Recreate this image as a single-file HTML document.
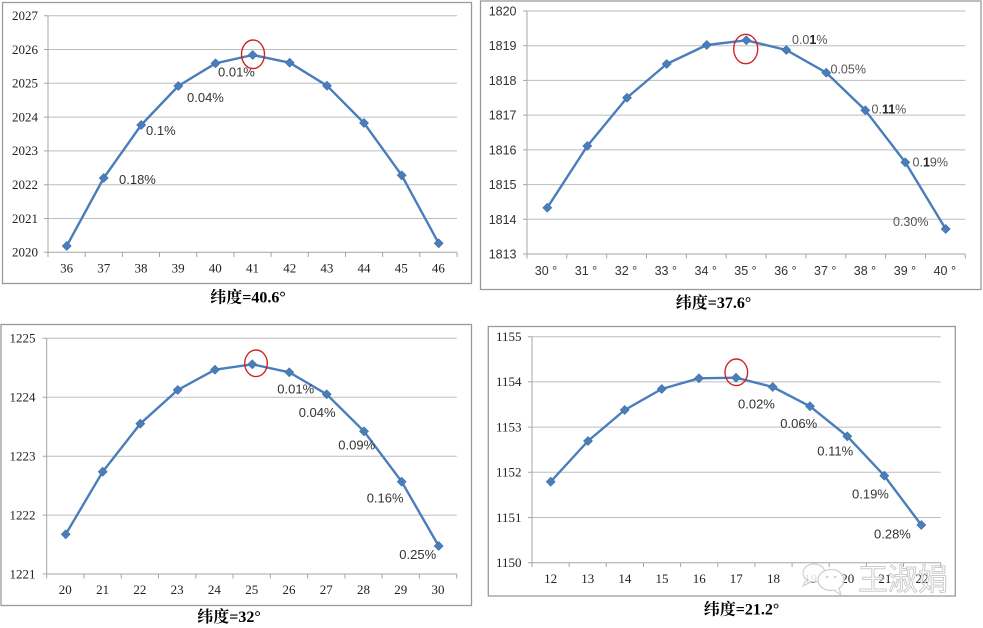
<!DOCTYPE html>
<html><head><meta charset="utf-8"><style>
html,body{margin:0;padding:0;background:#fff;}
svg{display:block;}
.grid{stroke:#bdbdbd;stroke-width:1;}
.ax{stroke:#a6a6a6;stroke-width:1;}
.frame{fill:none;stroke:#9a9a9a;stroke-width:1.3;}
.ser{fill:none;stroke:#4a7ebb;stroke-width:2.4;stroke-linejoin:round;}
.mk{fill:#4a7ebb;stroke:#3d6ea8;stroke-width:0.6;}
.yl{font-family:"Liberation Serif",serif;font-size:13px;fill:#222;text-anchor:end;}
.xl{font-family:"Liberation Serif",serif;font-size:13px;fill:#222;text-anchor:middle;}
.yls{font-family:"Liberation Sans",sans-serif;font-size:12.5px;fill:#333;text-anchor:end;}
.xls{font-family:"Liberation Sans",sans-serif;font-size:12.5px;fill:#333;text-anchor:middle;}
.dl{font-family:"Liberation Sans",sans-serif;font-size:13px;fill:#333;}
.dl2{font-family:"Liberation Sans",sans-serif;font-size:12.5px;fill:#555;}
.tt{font-family:"Liberation Serif","Noto Serif CJK SC",serif;font-size:16px;font-weight:bold;fill:#000;text-anchor:middle;}
.circ{fill:none;stroke:#d0242a;stroke-width:1.4;}
</style></head><body>
<svg width="983" height="628" viewBox="0 0 983 628" xmlns="http://www.w3.org/2000/svg">
<rect width="983" height="628" fill="#fff"/>

<!-- ============ Chart 1 ============ -->
<rect class="frame" x="2.5" y="2.5" width="469" height="281"/>
<g>
<line class="grid" x1="48" y1="15.7" x2="457" y2="15.7"/>
<line class="grid" x1="48" y1="49.5" x2="457" y2="49.5"/>
<line class="grid" x1="48" y1="83.3" x2="457" y2="83.3"/>
<line class="grid" x1="48" y1="117.1" x2="457" y2="117.1"/>
<line class="grid" x1="48" y1="150.9" x2="457" y2="150.9"/>
<line class="grid" x1="48" y1="184.7" x2="457" y2="184.7"/>
<line class="grid" x1="48" y1="218.5" x2="457" y2="218.5"/>
<line class="ax" x1="48" y1="15.7" x2="48" y2="252.3"/>
<line class="ax" x1="48" y1="252.3" x2="457" y2="252.3"/>
<path class="ax" d="M44 15.7H48M44 49.5H48M44 83.3H48M44 117.1H48M44 150.9H48M44 184.7H48M44 218.5H48M44 252.3H48"/>
<path class="ax" d="M48 252.3V257M85.2 252.3V257M122.4 252.3V257M159.5 252.3V257M196.7 252.3V257M233.9 252.3V257M271.1 252.3V257M308.3 252.3V257M345.5 252.3V257M382.6 252.3V257M419.8 252.3V257M457 252.3V257"/>
<text class="yl" x="38" y="20">2027</text>
<text class="yl" x="38" y="53.8">2026</text>
<text class="yl" x="38" y="87.6">2025</text>
<text class="yl" x="38" y="121.4">2024</text>
<text class="yl" x="38" y="155.2">2023</text>
<text class="yl" x="38" y="189">2022</text>
<text class="yl" x="38" y="222.8">2021</text>
<text class="yl" x="38" y="256.6">2020</text>
<text class="xl" x="66.6" y="272.5">36</text>
<text class="xl" x="103.8" y="272.5">37</text>
<text class="xl" x="141" y="272.5">38</text>
<text class="xl" x="178.1" y="272.5">39</text>
<text class="xl" x="215.3" y="272.5">40</text>
<text class="xl" x="252.5" y="272.5">41</text>
<text class="xl" x="289.7" y="272.5">42</text>
<text class="xl" x="326.9" y="272.5">43</text>
<text class="xl" x="364" y="272.5">44</text>
<text class="xl" x="401.2" y="272.5">45</text>
<text class="xl" x="438.4" y="272.5">46</text>
<polyline class="ser" points="66.7,246 103.7,178 141.2,125 178.3,86 215.6,63.3 252.7,55 289.7,62.7 327,85.7 364,123 401.7,175.3 438.7,243.3"/>
<g class="mk">
<path d="M66.7 241.5l4.5 4.5-4.5 4.5-4.5-4.5z"/>
<path d="M103.7 173.5l4.5 4.5-4.5 4.5-4.5-4.5z"/>
<path d="M141.2 120.5l4.5 4.5-4.5 4.5-4.5-4.5z"/>
<path d="M178.3 81.5l4.5 4.5-4.5 4.5-4.5-4.5z"/>
<path d="M215.6 58.8l4.5 4.5-4.5 4.5-4.5-4.5z"/>
<path d="M252.7 50.5l4.5 4.5-4.5 4.5-4.5-4.5z"/>
<path d="M289.7 58.2l4.5 4.5-4.5 4.5-4.5-4.5z"/>
<path d="M327 81.2l4.5 4.5-4.5 4.5-4.5-4.5z"/>
<path d="M364 118.5l4.5 4.5-4.5 4.5-4.5-4.5z"/>
<path d="M401.7 170.8l4.5 4.5-4.5 4.5-4.5-4.5z"/>
<path d="M438.7 238.8l4.5 4.5-4.5 4.5-4.5-4.5z"/>
</g>
<text class="dl" x="218" y="76.5">0.01%</text>
<text class="dl" x="187" y="102">0.04%</text>
<text class="dl" x="146" y="135">0.1%</text>
<text class="dl" x="119" y="184">0.18%</text>
<ellipse class="circ" cx="253" cy="54.3" rx="11.5" ry="14.3"/>
</g>
<text class="tt" x="248" y="302.5">纬度=40.6°</text>

<!-- ============ Chart 2 ============ -->
<rect class="frame" x="480.5" y="1" width="500.5" height="288.5"/>
<g>
<line class="grid" x1="527" y1="11" x2="965.3" y2="11"/>
<line class="grid" x1="527" y1="45.7" x2="965.3" y2="45.7"/>
<line class="grid" x1="527" y1="80.4" x2="965.3" y2="80.4"/>
<line class="grid" x1="527" y1="115.1" x2="965.3" y2="115.1"/>
<line class="grid" x1="527" y1="149.9" x2="965.3" y2="149.9"/>
<line class="grid" x1="527" y1="184.6" x2="965.3" y2="184.6"/>
<line class="grid" x1="527" y1="219.3" x2="965.3" y2="219.3"/>
<line class="ax" x1="527" y1="11" x2="527" y2="254"/>
<line class="ax" x1="527" y1="254" x2="965.3" y2="254"/>
<path class="ax" d="M523 11H527M523 45.7H527M523 80.4H527M523 115.1H527M523 149.9H527M523 184.6H527M523 219.3H527M523 254H527"/>
<path class="ax" d="M527 254V258.5M566.8 254V258.5M606.7 254V258.5M646.5 254V258.5M686.4 254V258.5M726.2 254V258.5M766.1 254V258.5M805.9 254V258.5M845.8 254V258.5M885.6 254V258.5M925.5 254V258.5M965.3 254V258.5"/>
<text class="yls" x="516.5" y="15.5">1820</text>
<text class="yls" x="516.5" y="50.2">1819</text>
<text class="yls" x="516.5" y="84.9">1818</text>
<text class="yls" x="516.5" y="119.6">1817</text>
<text class="yls" x="516.5" y="154.4">1816</text>
<text class="yls" x="516.5" y="189.1">1815</text>
<text class="yls" x="516.5" y="223.8">1814</text>
<text class="yls" x="516.5" y="258.5">1813</text>
<text class="xls" x="546" y="275">30 °</text>
<text class="xls" x="586" y="275">31 °</text>
<text class="xls" x="626" y="275">32 °</text>
<text class="xls" x="665.8" y="275">33 °</text>
<text class="xls" x="705.7" y="275">34 °</text>
<text class="xls" x="745.5" y="275">35 °</text>
<text class="xls" x="785.4" y="275">36 °</text>
<text class="xls" x="825.2" y="275">37 °</text>
<text class="xls" x="865" y="275">38 °</text>
<text class="xls" x="905" y="275">39 °</text>
<text class="xls" x="944.8" y="275">40 °</text>
<polyline class="ser" points="547.3,207.7 587.3,146 627,97.7 666.7,64 706.7,45 746.3,40.3 786.3,50 826.3,72.7 865.3,110.3 905.3,162.3 945.7,229"/>
<g class="mk">
<path d="M547.3 203.2l4.5 4.5-4.5 4.5-4.5-4.5z"/>
<path d="M587.3 141.5l4.5 4.5-4.5 4.5-4.5-4.5z"/>
<path d="M627 93.2l4.5 4.5-4.5 4.5-4.5-4.5z"/>
<path d="M666.7 59.5l4.5 4.5-4.5 4.5-4.5-4.5z"/>
<path d="M706.7 40.5l4.5 4.5-4.5 4.5-4.5-4.5z"/>
<path d="M746.3 35.8l4.5 4.5-4.5 4.5-4.5-4.5z"/>
<path d="M786.3 45.5l4.5 4.5-4.5 4.5-4.5-4.5z"/>
<path d="M826.3 68.2l4.5 4.5-4.5 4.5-4.5-4.5z"/>
<path d="M865.3 105.8l4.5 4.5-4.5 4.5-4.5-4.5z"/>
<path d="M905.3 157.8l4.5 4.5-4.5 4.5-4.5-4.5z"/>
<path d="M945.7 224.5l4.5 4.5-4.5 4.5-4.5-4.5z"/>
</g>
<text class="dl2" x="792" y="44">0.0<tspan font-weight="bold" fill="#222">1</tspan>%</text>
<text class="dl2" x="830.5" y="73.5">0.05%</text>
<text class="dl2" x="871.5" y="113.5">0.<tspan font-weight="bold" fill="#222">11</tspan>%</text>
<text class="dl2" x="912.5" y="166.5">0.<tspan font-weight="bold" fill="#222">1</tspan>9%</text>
<text class="dl2" x="893" y="226">0.30%</text>
<ellipse class="circ" cx="745.7" cy="49" rx="12" ry="14.7"/>
</g>
<text class="tt" x="713.5" y="308">纬度=37.6°</text>

<!-- ============ Chart 3 ============ -->
<rect class="frame" x="1" y="324.5" width="470.5" height="281"/>
<g>
<line class="grid" x1="46.7" y1="338.3" x2="456.7" y2="338.3"/>
<line class="grid" x1="46.7" y1="397.2" x2="456.7" y2="397.2"/>
<line class="grid" x1="46.7" y1="456.2" x2="456.7" y2="456.2"/>
<line class="grid" x1="46.7" y1="515.1" x2="456.7" y2="515.1"/>
<line class="ax" x1="46.7" y1="338.3" x2="46.7" y2="574"/>
<line class="ax" x1="46.7" y1="574" x2="456.7" y2="574"/>
<path class="ax" d="M42.7 338.3H46.7M42.7 397.2H46.7M42.7 456.2H46.7M42.7 515.1H46.7M42.7 574H46.7"/>
<path class="ax" d="M46.7 574V578.5M84 574V578.5M121.2 574V578.5M158.5 574V578.5M195.8 574V578.5M233 574V578.5M270.3 574V578.5M307.6 574V578.5M344.9 574V578.5M382.1 574V578.5M419.4 574V578.5M456.7 574V578.5"/>
<text class="yl" x="35.5" y="342.6">1225</text>
<text class="yl" x="35.5" y="401.5">1224</text>
<text class="yl" x="35.5" y="460.5">1223</text>
<text class="yl" x="35.5" y="519.4">1222</text>
<text class="yl" x="35.5" y="578.3">1221</text>
<text class="xl" x="65.3" y="594">20</text>
<text class="xl" x="102.6" y="594">21</text>
<text class="xl" x="139.9" y="594">22</text>
<text class="xl" x="177.1" y="594">23</text>
<text class="xl" x="214.4" y="594">24</text>
<text class="xl" x="251.7" y="594">25</text>
<text class="xl" x="289" y="594">26</text>
<text class="xl" x="326.2" y="594">27</text>
<text class="xl" x="363.5" y="594">28</text>
<text class="xl" x="400.8" y="594">29</text>
<text class="xl" x="438" y="594">30</text>
<polyline class="ser" points="65.7,534.3 102.7,471.7 140.3,423.7 177.7,390 215,369.7 252.3,364.3 289.3,372.3 326.7,394.3 364,431.3 401.7,481.7 438.7,546"/>
<g class="mk">
<path d="M65.7 529.8l4.5 4.5-4.5 4.5-4.5-4.5z"/>
<path d="M102.7 467.2l4.5 4.5-4.5 4.5-4.5-4.5z"/>
<path d="M140.3 419.2l4.5 4.5-4.5 4.5-4.5-4.5z"/>
<path d="M177.7 385.5l4.5 4.5-4.5 4.5-4.5-4.5z"/>
<path d="M215 365.2l4.5 4.5-4.5 4.5-4.5-4.5z"/>
<path d="M252.3 359.8l4.5 4.5-4.5 4.5-4.5-4.5z"/>
<path d="M289.3 367.8l4.5 4.5-4.5 4.5-4.5-4.5z"/>
<path d="M326.7 389.8l4.5 4.5-4.5 4.5-4.5-4.5z"/>
<path d="M364 426.8l4.5 4.5-4.5 4.5-4.5-4.5z"/>
<path d="M401.7 477.2l4.5 4.5-4.5 4.5-4.5-4.5z"/>
<path d="M438.7 541.5l4.5 4.5-4.5 4.5-4.5-4.5z"/>
</g>
<text class="dl" x="277.3" y="393.7">0.01%</text>
<text class="dl" x="298.7" y="417">0.04%</text>
<text class="dl" x="338.3" y="449.7">0.09%</text>
<text class="dl" x="366.7" y="502.4">0.16%</text>
<text class="dl" x="399.3" y="559">0.25%</text>
<ellipse class="circ" cx="256" cy="363.3" rx="11.3" ry="13.3"/>
</g>
<text class="tt" x="229" y="622">纬度=32°</text>

<!-- ============ Chart 4 ============ -->
<rect class="frame" x="488.3" y="326.5" width="467" height="269.5"/>
<g>
<line class="grid" x1="532" y1="336.7" x2="940.7" y2="336.7"/>
<line class="grid" x1="532" y1="381.9" x2="940.7" y2="381.9"/>
<line class="grid" x1="532" y1="427.1" x2="940.7" y2="427.1"/>
<line class="grid" x1="532" y1="472.3" x2="940.7" y2="472.3"/>
<line class="grid" x1="532" y1="517.5" x2="940.7" y2="517.5"/>
<line class="ax" x1="532" y1="336.7" x2="532" y2="562.7"/>
<line class="ax" x1="532" y1="562.7" x2="940.7" y2="562.7"/>
<path class="ax" d="M528 336.7H532M528 381.9H532M528 427.1H532M528 472.3H532M528 517.5H532M528 562.7H532"/>
<path class="ax" d="M532 562.7V567M569.2 562.7V567M606.3 562.7V567M643.5 562.7V567M680.6 562.7V567M717.8 562.7V567M754.9 562.7V567M792.1 562.7V567M829.2 562.7V567M866.4 562.7V567M903.5 562.7V567M940.7 562.7V567"/>
<text class="yl" x="521.5" y="341">1155</text>
<text class="yl" x="521.5" y="386.2">1154</text>
<text class="yl" x="521.5" y="431.4">1153</text>
<text class="yl" x="521.5" y="476.6">1152</text>
<text class="yl" x="521.5" y="521.8">1151</text>
<text class="yl" x="521.5" y="567">1150</text>
<text class="xl" x="550.6" y="583">12</text>
<text class="xl" x="587.7" y="583">13</text>
<text class="xl" x="624.9" y="583">14</text>
<text class="xl" x="662" y="583">15</text>
<text class="xl" x="699.2" y="583">16</text>
<text class="xl" x="736.3" y="583">17</text>
<text class="xl" x="773.5" y="583">18</text>
<text class="xl" x="810.6" y="583">19</text>
<text class="xl" x="847.8" y="583">20</text>
<text class="xl" x="884.9" y="583">21</text>
<text class="xl" x="922" y="583">22</text>
<polyline class="ser" points="550.7,481.7 588,441 624.7,410 661.7,389 699,378.3 736,377.7 772.7,387 810,406.3 847.3,436.3 884.3,475.7 921.3,525"/>
<g class="mk">
<path d="M550.7 477.2l4.5 4.5-4.5 4.5-4.5-4.5z"/>
<path d="M588 436.5l4.5 4.5-4.5 4.5-4.5-4.5z"/>
<path d="M624.7 405.5l4.5 4.5-4.5 4.5-4.5-4.5z"/>
<path d="M661.7 384.5l4.5 4.5-4.5 4.5-4.5-4.5z"/>
<path d="M699 373.8l4.5 4.5-4.5 4.5-4.5-4.5z"/>
<path d="M736 373.2l4.5 4.5-4.5 4.5-4.5-4.5z"/>
<path d="M772.7 382.5l4.5 4.5-4.5 4.5-4.5-4.5z"/>
<path d="M810 401.8l4.5 4.5-4.5 4.5-4.5-4.5z"/>
<path d="M847.3 431.8l4.5 4.5-4.5 4.5-4.5-4.5z"/>
<path d="M884.3 471.2l4.5 4.5-4.5 4.5-4.5-4.5z"/>
<path d="M921.3 520.5l4.5 4.5-4.5 4.5-4.5-4.5z"/>
</g>
<text class="dl" x="738" y="408.7">0.02%</text>
<text class="dl" x="780.3" y="428">0.06%</text>
<text class="dl" x="817.3" y="455.7">0.11%</text>
<text class="dl" x="852" y="498.7">0.19%</text>
<text class="dl" x="874" y="538.7">0.28%</text>
<ellipse class="circ" cx="736.3" cy="372.3" rx="11.3" ry="13.3"/>
</g>
<text class="tt" x="741.5" y="614.5">纬度=21.2°</text>

<!-- watermark -->
<g opacity="0.85">
<ellipse cx="814" cy="573" rx="11" ry="9" fill="#fff" stroke="#c8c8c8" stroke-width="1.2"/>
<path d="M806 580l-3 6 8-4" fill="#fff" stroke="#c8c8c8" stroke-width="1.2"/>
<ellipse cx="831" cy="580" rx="13" ry="10.5" fill="#fff" stroke="#c8c8c8" stroke-width="1.3"/>
<path d="M834 590l7 5-2-7" fill="#fff" stroke="#c8c8c8" stroke-width="1.2"/>
<circle cx="827" cy="577" r="1.2" fill="#c8c8c8"/>
<circle cx="835" cy="577" r="1.2" fill="#c8c8c8"/>
<text x="858" y="590" font-family="'Noto Sans CJK SC',sans-serif" font-size="30" fill="none" stroke="#c4c4c4" stroke-width="1" letter-spacing="0">王淑娟</text>
</g>
</svg>
</body></html>
